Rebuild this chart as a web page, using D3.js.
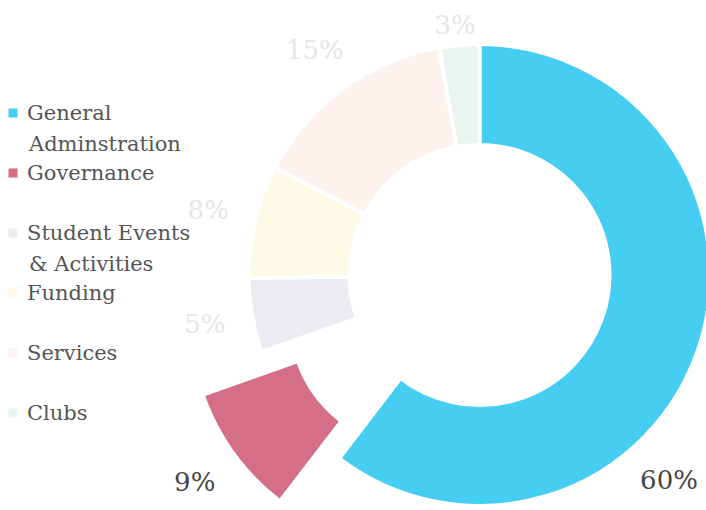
<!DOCTYPE html>
<html>
<head>
<meta charset="utf-8">
<script src="https://cdn.jsdelivr.net/npm/d3@7/dist/d3.min.js"></script>
<style>
  body { margin: 0; background: #fff; }
  svg { display: block; font-family: "DejaVu Serif", serif; }
</style>
</head>
<body>
<svg id="chart" width="706" height="510"></svg>
<script>
// budget split, in percent
var categories = ["General Adminstration", "Governance", "Student Events & Activities", "Funding", "Services", "Clubs"];
var shares = [60.4, 9.2, 5.2, 7.9, 14.5, 2.8];
var colors = ["#45cdf2", "#d56e88", "#ebecf1", "#fefae8", "#fdf2ee", "#eaf5f0"];
var pulled = ["Governance"];
var strongLabels = ["General Adminstration", "Governance"];

var svg = d3.select("#chart"),
  width = +svg.attr("width"),
  height = +svg.attr("height");

var cx = 479.5, cy = 275,
  outer = 231, inner = 130,
  pullDist = 73,
  labelR = 279;

var data = categories.map(function (c, i) { return { name: c, value: shares[i], color: colors[i] }; });

var pie = d3.pie().sort(null).value(d => d.value);
var arc = d3.arc().innerRadius(inner).outerRadius(outer);
var arcs = pie(data);

var g = svg.append("g").attr("transform", "translate(" + cx + "," + cy + ")");

function offset(d) {
  if (pulled.indexOf(d.data.name) < 0) return [0, 0];
  var a = (d.startAngle + d.endAngle) / 2;
  return [Math.sin(a) * pullDist, -Math.cos(a) * pullDist];
}

g.selectAll("path.slice").data(arcs).join("path")
  .attr("class", "slice")
  .attr("d", arc)
  .attr("fill", d => d.data.color)
  .attr("stroke", "#fff")
  .attr("stroke-width", 4)
  .attr("transform", d => "translate(" + offset(d) + ")");

//----- percent labels round the ring
var fmt = d => Math.round(d) + "%";
var labels = g.selectAll("text.pct").data(arcs).join("text")
  .attr("class", "pct")
  .attr("text-anchor", "middle")
  .attr("dy", "0.35em")
  .style("font-size", "26px")
  .attr("fill", d => strongLabels.indexOf(d.data.name) >= 0 ? "#454545" : "#e6e6e6")
  .text(d => fmt(d.data.value));

labels.each(function (d) {
  var t = d3.select(this);
  var bb = this.getBBox();
  var hw = bb.width / 2, hh = bb.height / 2;
  var off = offset(d);
  var a = (d.startAngle + d.endAngle) / 2;
  var x, y;
  // slide the label along its circle until it sits inside the picture
  for (var k = 0; k < 200; k++) {
    x = off[0] + Math.sin(a) * labelR;
    y = off[1] - Math.cos(a) * labelR;
    if (cx + x + hw <= width - 8) break;
    a += (a < Math.PI ? 1 : -1) * Math.PI / 360;
  }
  y = Math.max(y, -cy + hh + 10);
  y = Math.min(y, height - cy - hh - 2);
  t.attr("x", x).attr("y", y);
});

//----- legend
var legend = svg.append("g").attr("class", "legend");
var rows = legend.selectAll("g").data(data).join("g")
  .attr("transform", (d, i) => "translate(0," + (120 + i * 60) + ")");

rows.append("rect")
  .attr("x", 8.5).attr("y", -11.5)
  .attr("width", 9).attr("height", 9)
  .attr("fill", d => d.color);

rows.append("text")
  .attr("x", 27)
  .style("font-size", "21px")
  .attr("fill", "#555")
  .each(function (d) {
    var t = d3.select(this);
    var words = d.name.split(" "), line = [];
    var span = t.append("tspan").attr("x", 27).attr("dy", 0);
    words.forEach(function (w) {
      line.push(w);
      span.text(line.join(" "));
      if (span.node().getComputedTextLength() > 180 && line.length > 1) {
        line.pop();
        span.text(line.join(" "));
        line = [w];
        span = t.append("tspan").attr("x", 29).attr("dy", 31).text(w);
      }
    });
  });
</script>
</body>
</html>
